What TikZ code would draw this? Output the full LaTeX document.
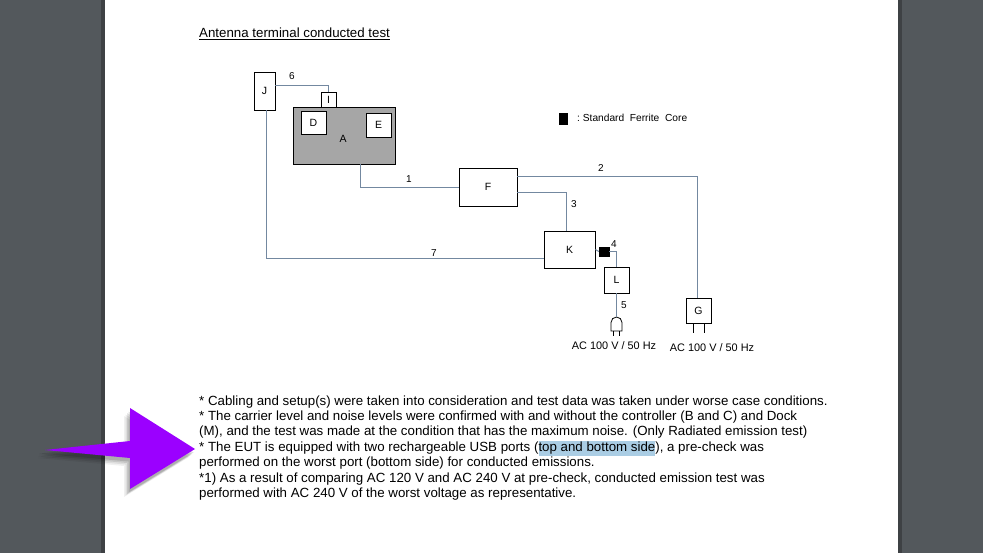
\documentclass[tikz,border=0pt]{standalone}
\usepackage{fontspec}
\setmainfont{Liberation Sans}
\usetikzlibrary{calc}
\definecolor{bggray}{HTML}{53585C}
\definecolor{wire}{HTML}{7388A0}
\definecolor{agray}{HTML}{A6A6A6}
\definecolor{hl}{HTML}{AACDE4}
\definecolor{violet}{RGB}{155,0,255}
\begin{document}
\begin{tikzpicture}[x=1pt,y=-1pt,
  box/.style={draw=black,line width=0.8pt,fill=white,inner sep=0pt,font=\fontsize{10.5}{11}\selectfont},
  wireline/.style={draw=wire,line width=1pt},
  num/.style={font=\fontsize{10}{11}\selectfont,inner sep=0pt},
  body/.style={anchor=base west,inner sep=0pt,font=\fontsize{13.3}{15}\selectfont}]
\useasboundingbox (0,0) rectangle (983,553);
\fill[bggray] (0,0) rectangle (983,553);
\fill[black,opacity=0.25] (101,0) rectangle (105,553);
\fill[black,opacity=0.25] (898,0) rectangle (902,553);
\fill[white] (105,0) rectangle (898,553);

% title
\node[anchor=base west,inner sep=0pt,font=\fontsize{13.3}{15}\selectfont] (title) at (199,38) {\underline{Antenna terminal conducted test}};

% boxes
\node[box,minimum width=21pt,minimum height=38pt] (J) at (264.5,91) {J};
\node[box,fill=agray,minimum width=102pt,minimum height=57pt] (A) at (344,135.5) {};
\node[box,draw=none,fill=none] (Alab) at (343,139) {A};
\node[box,minimum width=15pt,minimum height=15pt] (I) at (328.5,99.5) {I};
\node[box,minimum width=25pt,minimum height=23pt] (D) at (313.5,122.5) {D};
\node[box,minimum width=25pt,minimum height=24pt] (E) at (378.5,125) {E};
\node[box,minimum width=58pt,minimum height=38pt] (F) at (488,187) {F};
\node[box,minimum width=51pt,minimum height=37pt] (K) at (569.5,249.5) {K};
\node[draw=black,fill=black,inner sep=0pt,minimum width=10pt,minimum height=9pt] (fc) at (604,251.5) {};
\node[box,minimum width=25pt,minimum height=26pt] (L) at (616.5,280) {L};
\node[box,minimum width=25pt,minimum height=25pt] (G) at (698.5,310.5) {G};

% plug
\coordinate (plug) at (616.5,317);
\draw[black,line width=0.8pt,fill=white] ($(plug)+(-5.5,14)$) -- ($(plug)+(-5.5,5.5)$) arc[start angle=180,end angle=0,radius=5.5pt] -- ($(plug)+(5.5,14)$) -- cycle;
\draw[black,line width=0.8pt] ($(plug)+(-3,14)$) -- ($(plug)+(-3,19)$) ($(plug)+(3,14)$) -- ($(plug)+(3,19)$);
% G prongs
\draw[black,line width=0.8pt] ($(G.south)+(-5.5,0)$) -- ($(G.south)+(-5.5,10)$) ($(G.south)+(5.5,0)$) -- ($(G.south)+(5.5,10)$);

% wires
\draw[wireline] ($(J.east)+(0,-5)$) -| (I.north);
\draw[wireline] ($(A.south)+(16,0)$) |- ($(F.west)+(0,1)$);
\draw[wireline] ($(F.east)+(0,-10)$) -| ($(G.north)+(-1.5,0)$);
\draw[wireline] ($(F.east)+(0,6)$) -| ($(K.north)+(-3.5,0)$);
\draw[wireline] ($(J.south)+(1.5,0)$) |- ($(K.west)+(0,9.5)$);
\draw[wireline] (K.east) -- (fc.west);
\draw[wireline] (fc.east) -| (L.north);
\draw[wireline] (L.south) -- (plug);

% wire numbers
\node[num] (n6) at (292,76) {6};
\node[num] (n1) at (409,179) {1};
\node[num] (n2) at (601,168) {2};
\node[num] (n3) at (574,204) {3};
\node[num] (n4) at (614,244) {4};
\node[num] (n5) at (624,305) {5};
\node[num] (n7) at (434,253) {7};

% legend
\node[draw=black,fill=black,inner sep=0pt,minimum width=8pt,minimum height=11pt] (legsq) at (563,118.5) {};
\node[anchor=west,inner sep=0pt,font=\fontsize{10.2}{11}\selectfont] (legtxt) at (577,118) {:\ Standard\ \ Ferrite\ \ Core};

% AC labels
\node[num,font=\fontsize{10.9}{12}\selectfont] (ac1) at (614,346) {AC 100 V / 50 Hz};
\node[num,font=\fontsize{10.9}{12}\selectfont] (ac2) at (712,348) {AC 100 V / 50 Hz};

% notes
\node[body] (t1) at (199,405.5) {* Cabling and setup(s) were taken into consideration and test data was taken under worse case conditions.};
\node[body] (t2) at (199,420.5) {* The carrier level and noise levels were confirmed with and without the controller (B and C) and Dock};
\node[body] (t3) at (199,435.5) {(M), and the test was made at the condition that has the maximum noise. (Only Radiated emission test)};
\node[body] (t4) at (199,451) {* The EUT is equipped with two rechargeable USB ports ({\setlength{\fboxsep}{0pt}\colorbox{hl}{\strut top and bottom side}}), a pre-check was};
\node[body] (t5) at (199,466.5) {performed on the worst port (bottom side) for conducted emissions.};
\node[body] (t6) at (199,482) {*1) As a result of comparing AC 120 V and AC 240 V at pre-check, conducted emission test was};
\node[body] (t7) at (199,497.5) {performed with AC 240 V of the worst voltage as representative.};

% arrow with shadow
\foreach \s/\o in {6/0.06,4.5/0.08,3/0.1,1.5/0.12}{
  \fill[black,opacity=\o] ($(40,452)+(-\s*0.3,\s)$) -- ($(130,443)+(-\s,\s)$) -- ($(130,410)+(-\s,\s)$) -- ($(195,451)+(-\s,\s)$) -- ($(130,491)+(-\s,\s)$) -- ($(130,460)+(-\s,\s)$) -- cycle;}
\fill[violet] (45,450) -- (130,441) -- (130,408) -- (195,449) -- (130,489) -- (130,458) -- cycle;
\end{tikzpicture}
\end{document}
